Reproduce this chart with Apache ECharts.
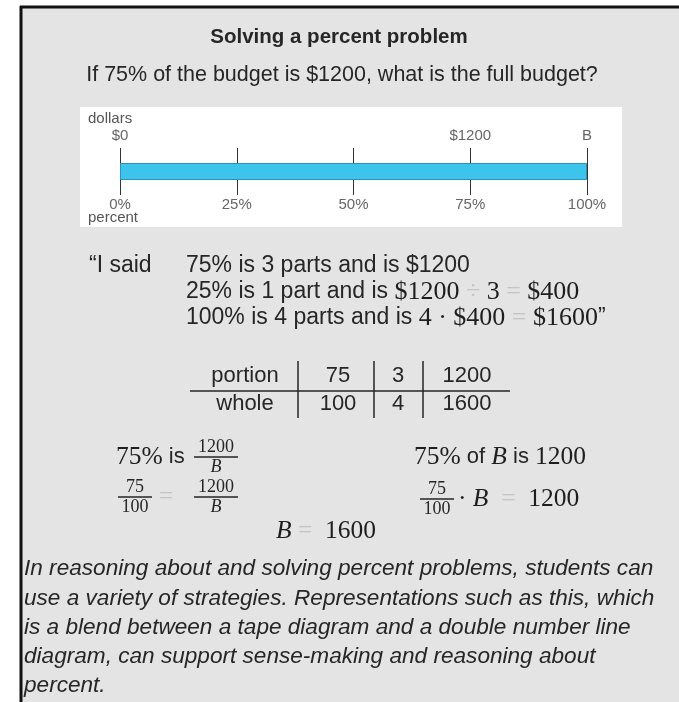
<!DOCTYPE html>
<html>
<head>
<meta charset="utf-8">
<script src="https://cdn.jsdelivr.net/npm/echarts@6/dist/echarts.min.js"></script>
<style>
  html, body { margin: 0; padding: 0; background: #fff; }
  #main { width: 679px; height: 702px; }
</style>
</head>
<body>
<div id="main"></div>
<script type="text/javascript">
// double number line data
var percentTicks = [0, 25, 50, 75, 100];
var percentLabels = ['0%', '25%', '50%', '75%', '100%'];
var dollarLabels = ['$0', '', '', '$1200', 'B'];
var tapeValue = [100];

// ratio table
var tableRows = ['portion', 'whole'];
var tablePercent = [75, 100];
var tableParts = [3, 4];
var tableDollars = [1200, 1600];

var paragraph = [
    'In reasoning about and solving percent problems, students can',
    'use a variety of strategies. Representations such as this, which',
    'is a blend between a tape diagram and a double number line',
    'diagram, can support sense-making and reasoning about',
    'percent.'
];

var SANS = '"Liberation Sans", Arial, sans-serif';
var SERIF = '"Liberation Serif", "DejaVu Serif", serif';
var INK = '#262626';
var FADED = '#c4c4c4';

// rich styles: q* for the quote lines, s/m/i/e for the equations
var rich = {
    qs: { fontFamily: SANS, fontSize: 23, fill: INK },
    qm: { fontFamily: SERIF, fontSize: 26, fill: '#1e1e1e' },
    qe: { fontFamily: SERIF, fontSize: 26, fill: FADED },
    s: { fontFamily: SANS, fontSize: 22, fill: INK },
    m: { fontFamily: SERIF, fontSize: 25.5, fill: '#1e1e1e' },
    i: { fontFamily: SERIF, fontSize: 25.5, fontStyle: 'italic', fill: '#1e1e1e' },
    e: { fontFamily: SERIF, fontSize: 25.5, fill: FADED }
};

function txt(x, y, text, st) {
    var style = { text: text, x: x, y: y, fill: INK, font: '22px ' + SANS, verticalAlign: 'middle', align: 'left' };
    for (var k in st) style[k] = st[k];
    return { type: 'text', style: style, z: 10 };
}
function richTxt(x, y, text) {
    return { type: 'text', z: 10, style: { x: x, y: y, verticalAlign: 'middle', text: text, rich: rich } };
}
function line(x1, y1, x2, y2, w, c) {
    return { type: 'line', shape: { x1: x1, y1: y1, x2: x2, y2: y2 }, style: { stroke: c || INK, lineWidth: w || 1 }, z: 10 };
}
function frac(cx, cy, num, den, size, w, denItalic) {
    var f = size + 'px ' + SERIF;
    return [
        txt(cx, cy - size * 0.52, num, { align: 'center', font: f }),
        line(cx - w / 2, cy, cx + w / 2, cy, 1.4),
        txt(cx, cy + size * 0.58, den, { align: 'center', font: (denItalic ? 'italic ' : '') + f })
    ];
}

var g = [];
// page frame
g.push({ type: 'rect', shape: { x: 21, y: 7, width: 658, height: 695 }, style: { fill: '#e4e4e4' }, z: 0 });
g.push(line(20, 7, 679, 7, 3, '#111'));
g.push(line(21, 6, 21, 702, 3, '#111'));
g.push({ type: 'rect', shape: { x: 80, y: 107, width: 542, height: 120 }, style: { fill: '#fff' }, z: 1 });

g.push(txt(339, 37, 'Solving a percent problem', { align: 'center', font: 'bold 20.5px ' + SANS }));
g.push(txt(342, 75, 'If 75% of the budget is $1200, what is the full budget?', { align: 'center', font: '21.5px ' + SANS }));

g.push(txt(88, 119, 'dollars', { font: '15px ' + SANS, fill: '#555' }));
g.push(txt(88, 218, 'percent', { font: '15px ' + SANS, fill: '#555' }));

// reasoning quote
g.push(txt(89, 266, '\u201cI said', { font: '23px ' + SANS }));
g.push(richTxt(186, 266, '{qs|75% is 3 parts and is $1200}'));
g.push(richTxt(186, 292, '{qs|25% is 1 part and is }{qm|$1200 }{qe|\u00f7}{qm| 3 }{qe|=}{qm| $400}'));
g.push(richTxt(186, 318, '{qs|100% is 4 parts and is }{qm|4 \u00b7 $400 }{qe|=}{qm| $1600}{qs|\u201d}'));

// ratio table
var colX = [245, 338, 398, 467];
var rowY = [376, 404];
for (var r = 0; r < 2; r++) {
    var vals = [tableRows[r], tablePercent[r], tableParts[r], tableDollars[r]];
    for (var c = 0; c < 4; c++) g.push(txt(colX[c], rowY[r], String(vals[c]), { align: 'center' }));
}
g.push(line(190, 391, 510, 391, 1.5));
[298, 374, 423].forEach(function (x) { g.push(line(x, 361, x, 418, 1.5)); });

// equations, left
g.push(richTxt(116, 457, '{m|75%}{s| is}'));
g = g.concat(frac(216, 457, '1200', 'B', 18, 44, true));
g = g.concat(frac(135, 497, '75', '100', 18, 34, false));
g.push(txt(159, 497, '=', { font: '25px ' + SERIF, fill: FADED }));
g = g.concat(frac(216, 497, '1200', 'B', 18, 44, true));
g.push(richTxt(276, 531, '{i|B }{e|=}{m|  1600}'));

// equations, right
g.push(richTxt(414, 457, '{m|75%}{s| of }{i|B}{s| is }{m|1200}'));
g = g.concat(frac(437, 499, '75', '100', 18, 34, false));
g.push(richTxt(458, 499, '{m|\u00b7}{i| B  }{e|=}{m|  1200}'));

// caption
paragraph.forEach(function (s, i) {
    g.push(txt(24, 569 + i * 29.3, s, { font: 'italic 22.6px ' + SANS }));
});

var chart = echarts.init(document.getElementById('main'));
chart.setOption({
    animation: false,
    grid: { left: 120, right: 92, top: 148, height: 47 },
    xAxis: [
        {
            type: 'value', position: 'bottom', min: 0, max: 100, interval: 25, z: 20,
            axisLine: { show: false }, axisTick: { show: false }, splitLine: { show: false },
            axisLabel: { margin: 2, fontSize: 15, color: '#666', fontFamily: SANS,
                formatter: function (v) { return percentLabels[percentTicks.indexOf(v)]; } }
        },
        {
            type: 'value', position: 'top', min: 0, max: 100, interval: 25, z: 20,
            axisLine: { show: false }, axisTick: { show: false }, splitLine: { show: false },
            axisLabel: { margin: 5, fontSize: 15, color: '#666', fontFamily: SANS,
                formatter: function (v) { return dollarLabels[percentTicks.indexOf(v)]; } }
        }
    ],
    yAxis: { type: 'category', data: ['tape'], show: false },
    series: [{
        type: 'bar',
        data: tapeValue,
        barWidth: 17,
        z: 20,
        itemStyle: { color: '#3cc4ec', borderColor: '#2a93b6', borderWidth: 1 },
        silent: true,
        markLine: {
            silent: true, symbol: 'none', animation: false,
            label: { show: false },
            lineStyle: { color: '#333', width: 1, type: 'solid' },
            data: percentTicks.map(function (v) { return { xAxis: v }; })
        }
    }],
    graphic: g
});
</script>
</body>
</html>
